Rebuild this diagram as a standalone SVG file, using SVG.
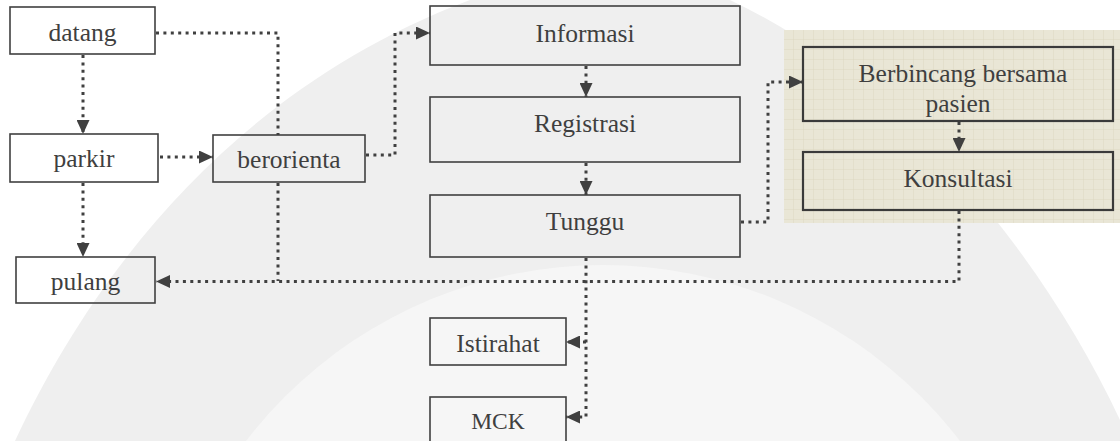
<svg xmlns="http://www.w3.org/2000/svg" width="1120" height="441" viewBox="0 0 1120 441">
  <defs>
    <style>
      .box { fill: none; stroke: #404040; stroke-width: 1.6; }
      .box2 { fill: none; stroke: #3a3a3a; stroke-width: 2.2; }
      .lbl { font-family: "Liberation Serif", "Times New Roman", serif; font-size: 25.5px; fill: #3f3f3f; text-anchor: middle; }
      .link { fill: none; stroke: #404040; stroke-width: 3; stroke-dasharray: 3 4.4; }
      .arrow { marker-end: url(#head); }
    </style>
    <marker id="head" viewBox="0 0 14 13" refX="14" refY="6.5" markerWidth="14" markerHeight="13" markerUnits="userSpaceOnUse" orient="auto">
      <path d="M0,0 L14,6.5 L0,13 Z" fill="#404040"/>
    </marker>
    <pattern id="grid" width="10" height="10" patternUnits="userSpaceOnUse" x="784" y="30">
      <rect width="10" height="10" fill="#e9e6d6"/>
      <path d="M10,0 V10 M0,10 H10" fill="none" stroke="#d9d4bc" stroke-width="0.8"/>
    </pattern>
  </defs>

  <!-- backdrop -->
  <rect width="1120" height="441" fill="#ffffff"/>
  <path d="M15,441 C90,280 230,90 470,0 L730,0 C900,80 1040,250 1120,420 L1120,441 Z" fill="#efefef"/>
  <circle cx="603" cy="715" r="450" fill="#f6f6f6"/>

  <!-- shaded panel behind the consultation steps -->
  <rect x="784" y="30" width="336" height="193" fill="url(#grid)"/>

  <!-- connectors -->
  <g id="connectors">
    <path class="link arrow" d="M83,55 V134"/>
    <path class="link" d="M156,33 H278 V135"/>
    <path class="link arrow" d="M160,157 H213"/>
    <path class="link arrow" d="M366,155 H395 V33 H430"/>
    <path class="link arrow" d="M83,183 V257"/>
    <path class="link" d="M278,183 V281"/>
    <path class="link arrow" d="M959,211 V281.5 H156"/>
    <path class="link arrow" d="M586,66 V97"/>
    <path class="link arrow" d="M586,163 V195"/>
    <path class="link arrow" d="M741,222 H768 V82 H803"/>
    <path class="link arrow" d="M959,122 V152"/>
    <path class="link arrow" d="M586,258 V417 H566"/>
    <path class="link arrow" d="M586,342 H566"/>
  </g>

  <g id="datang">
    <rect class="box" x="10" y="7" width="145" height="47"/>
    <text class="lbl" x="82.5" y="41">datang</text>
  </g>
  <g id="parkir">
    <rect class="box" x="10" y="134" width="148" height="48"/>
    <text class="lbl" x="84" y="167">parkir</text>
  </g>
  <g id="berorienta">
    <rect class="box" x="213" y="135" width="152" height="47"/>
    <text class="lbl" x="289" y="168">berorienta</text>
  </g>
  <g id="pulang">
    <rect class="box" x="16" y="257" width="139" height="46"/>
    <text class="lbl" x="85.5" y="290">pulang</text>
  </g>
  <g id="informasi">
    <rect class="box" x="430" y="6" width="310" height="59"/>
    <text class="lbl" x="585" y="42">Informasi</text>
  </g>
  <g id="registrasi">
    <rect class="box" x="430" y="97" width="310" height="65"/>
    <text class="lbl" x="585" y="132">Registrasi</text>
  </g>
  <g id="tunggu">
    <rect class="box" x="430" y="195" width="310" height="62"/>
    <text class="lbl" x="585" y="230">Tunggu</text>
  </g>
  <g id="berbincang">
    <rect class="box2" x="803" y="47" width="310" height="74"/>
    <text class="lbl" x="963" y="82">Berbincang bersama</text>
    <text class="lbl" x="958" y="112">pasien</text>
  </g>
  <g id="konsultasi">
    <rect class="box2" x="803" y="152" width="310" height="58"/>
    <text class="lbl" x="958" y="187">Konsultasi</text>
  </g>
  <g id="istirahat">
    <rect class="box" x="430" y="318" width="136" height="47"/>
    <text class="lbl" x="498" y="352">Istirahat</text>
  </g>
  <g id="mck">
    <rect class="box" x="430" y="397" width="136" height="50"/>
    <text class="lbl" x="498" y="429" style="font-size:23.5px">MCK</text>
  </g>
</svg>
